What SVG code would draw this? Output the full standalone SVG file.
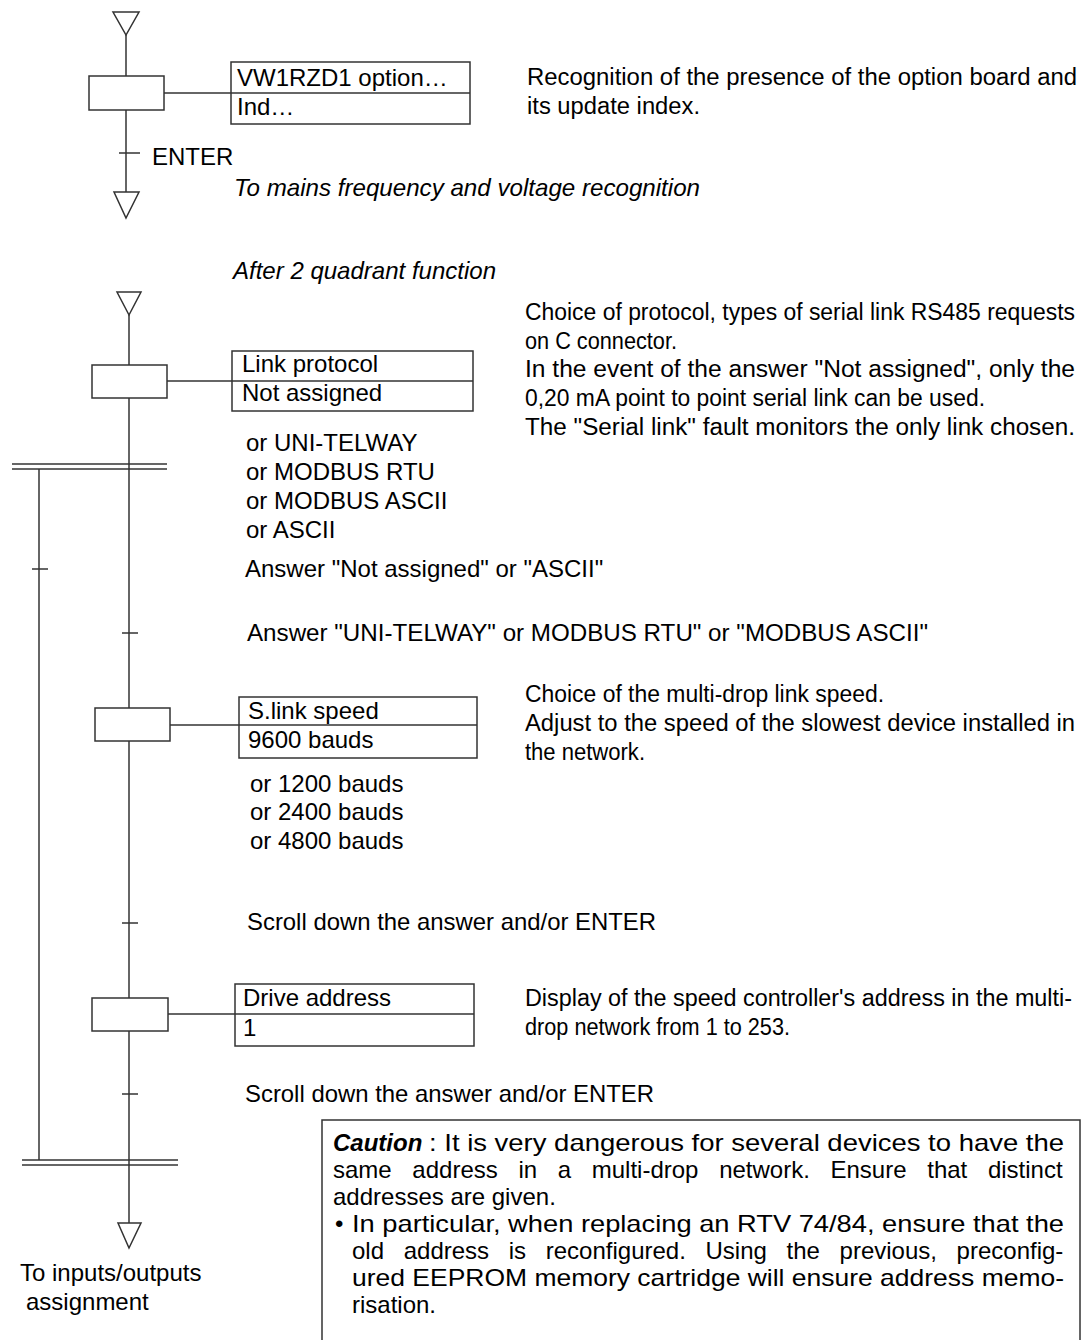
<svg xmlns="http://www.w3.org/2000/svg" width="1092" height="1340" viewBox="0 0 1092 1340">
<style>
.ln{stroke:#333;stroke-width:1.5;fill:none}
.bx{stroke:#333;stroke-width:1.5;fill:#fff}
.tri{stroke:#333;stroke-width:1.5;fill:#fff}
text{font-family:"Liberation Sans",Arial,sans-serif;font-size:24px;fill:#000}
.it{font-style:italic}
.ds{font-size:23.5px}
.cn{font-size:24px}
</style>
<rect width="1092" height="1340" fill="#fff"/>

<g id="connectors">
  <line class="ln" x1="126" y1="35" x2="126" y2="76"/>
  <line class="ln" x1="126" y1="110" x2="126" y2="192"/>
  <line class="ln" x1="119" y1="153" x2="140" y2="153"/>
  <line class="ln" x1="164" y1="93" x2="231" y2="93"/>
  <line class="ln" x1="129" y1="315" x2="129" y2="365"/>
  <line class="ln" x1="129" y1="398" x2="129" y2="708"/>
  <line class="ln" x1="167" y1="381" x2="232" y2="381"/>
  <line class="ln" x1="12" y1="464" x2="167" y2="464"/>
  <line class="ln" x1="12" y1="469" x2="167" y2="469"/>
  <line class="ln" x1="39" y1="469" x2="39" y2="1160"/>
  <line class="ln" x1="32" y1="569" x2="48" y2="569"/>
  <line class="ln" x1="122" y1="633" x2="138" y2="633"/>
  <line class="ln" x1="129" y1="741" x2="129" y2="998"/>
  <line class="ln" x1="170" y1="725" x2="239" y2="725"/>
  <line class="ln" x1="122" y1="923" x2="138" y2="923"/>
  <line class="ln" x1="129" y1="1031" x2="129" y2="1223"/>
  <line class="ln" x1="168" y1="1014" x2="235" y2="1014"/>
  <line class="ln" x1="122" y1="1094" x2="138" y2="1094"/>
  <line class="ln" x1="22" y1="1160" x2="178" y2="1160"/>
  <line class="ln" x1="22" y1="1165" x2="178" y2="1165"/>
</g>

<g id="start1"><polygon class="tri" points="113,12 139,12 126,35"/></g>
<g id="end1"><polygon class="tri" points="114,192 139,192 126,218"/></g>
<g id="step1"><rect class="bx" x="89" y="76" width="75" height="34"/></g>
<g id="info1">
  <rect class="bx" x="231" y="62" width="239" height="62"/>
  <line class="ln" x1="231" y1="93" x2="470" y2="93"/>
  <text x="237" y="86">VW1RZD1 option…</text>
  <text x="237" y="115">Ind…</text>
</g>
<text x="152" y="165">ENTER</text>
<text class="ds" x="527" y="85" textLength="550" lengthAdjust="spacingAndGlyphs">Recognition of the presence of the option board and</text>
<text class="ds" x="527" y="114" textLength="173" lengthAdjust="spacingAndGlyphs">its update index.</text>
<text class="it" x="234" y="196" textLength="466" lengthAdjust="spacingAndGlyphs">To mains frequency and voltage recognition</text>

<text class="it" x="233" y="279" textLength="263" lengthAdjust="spacingAndGlyphs">After 2 quadrant function</text>
<g id="start2"><polygon class="tri" points="117,292 141,292 129,315"/></g>
<g id="step2"><rect class="bx" x="92" y="365" width="75" height="33"/></g>
<g id="info2">
  <rect class="bx" x="232" y="351" width="241" height="60"/>
  <line class="ln" x1="232" y1="381" x2="473" y2="381"/>
  <text x="242" y="372">Link protocol</text>
  <text x="242" y="401">Not assigned</text>
</g>
<text class="ds" x="525" y="320" textLength="550" lengthAdjust="spacingAndGlyphs">Choice of protocol, types of serial link RS485 requests</text>
<text class="ds" x="525" y="349" textLength="152" lengthAdjust="spacingAndGlyphs">on C connector.</text>
<text class="ds" x="525" y="377" textLength="550" lengthAdjust="spacingAndGlyphs">In the event of the answer "Not assigned", only the</text>
<text class="ds" x="525" y="406" textLength="460" lengthAdjust="spacingAndGlyphs">0,20 mA point to point serial link can be used.</text>
<text class="ds" x="525" y="435" textLength="550" lengthAdjust="spacingAndGlyphs">The "Serial link" fault monitors the only link chosen.</text>

<text x="246" y="451">or UNI-TELWAY</text>
<text x="246" y="480">or MODBUS RTU</text>
<text x="246" y="509">or MODBUS ASCII</text>
<text x="246" y="538">or ASCII</text>
<text x="245" y="577">Answer "Not assigned" or "ASCII"</text>
<text x="247" y="641" textLength="681" lengthAdjust="spacingAndGlyphs">Answer "UNI-TELWAY" or MODBUS RTU" or "MODBUS ASCII"</text>

<g id="step3"><rect class="bx" x="95" y="708" width="75" height="33"/></g>
<g id="info3">
  <rect class="bx" x="239" y="697" width="238" height="61"/>
  <line class="ln" x1="239" y1="725" x2="477" y2="725"/>
  <text x="248" y="719">S.link speed</text>
  <text x="248" y="748">9600 bauds</text>
</g>
<text class="ds" x="525" y="702" textLength="359" lengthAdjust="spacingAndGlyphs">Choice of the multi-drop link speed.</text>
<text class="ds" x="525" y="731" textLength="550" lengthAdjust="spacingAndGlyphs">Adjust to the speed of the slowest device installed in</text>
<text class="ds" x="525" y="760" textLength="120" lengthAdjust="spacingAndGlyphs">the network.</text>
<text x="250" y="792">or 1200 bauds</text>
<text x="250" y="820">or 2400 bauds</text>
<text x="250" y="849">or 4800 bauds</text>
<text x="247" y="930" textLength="409" lengthAdjust="spacingAndGlyphs">Scroll down the answer and/or ENTER</text>

<g id="step4"><rect class="bx" x="92" y="998" width="76" height="33"/></g>
<g id="info4">
  <rect class="bx" x="235" y="984" width="239" height="62"/>
  <line class="ln" x1="235" y1="1014" x2="474" y2="1014"/>
  <text x="243" y="1006">Drive address</text>
  <text x="243" y="1036">1</text>
</g>
<text class="ds" x="525" y="1006" textLength="547" lengthAdjust="spacingAndGlyphs">Display of the speed controller's address in the multi-</text>
<text class="ds" x="525" y="1035" textLength="265" lengthAdjust="spacingAndGlyphs">drop network from 1 to 253.</text>
<text x="245" y="1102" textLength="409" lengthAdjust="spacingAndGlyphs">Scroll down the answer and/or ENTER</text>

<g id="end2"><polygon class="tri" points="118,1223 141,1223 129,1248"/></g>
<text x="20" y="1281">To inputs/outputs</text>
<text x="26" y="1310">assignment</text>

<g id="caution">
  <rect class="bx" x="322" y="1120" width="758" height="240"/>
  <text class="cn" x="333" y="1151" font-weight="bold" font-style="italic">Caution</text>
  <text class="cn" x="429" y="1151" textLength="635" lengthAdjust="spacingAndGlyphs">: It is very dangerous for several devices to have the</text>
  <text class="cn" x="333" y="1178" word-spacing="14">same address in a multi-drop network. Ensure that distinct</text>
  <text class="cn" x="333" y="1205">addresses are given.</text>
  <text class="cn" x="335" y="1232">•</text>
  <text class="cn" x="352" y="1232" textLength="712" lengthAdjust="spacingAndGlyphs">In particular, when replacing an RTV 74/84, ensure that the</text>
  <text class="cn" x="352" y="1259" word-spacing="13">old address is reconfigured. Using the previous, preconfig-</text>
  <text class="cn" x="352" y="1286" textLength="712" lengthAdjust="spacingAndGlyphs">ured EEPROM  memory cartridge will ensure address memo-</text>
  <text class="cn" x="352" y="1313">risation.</text>
</g>
</svg>
